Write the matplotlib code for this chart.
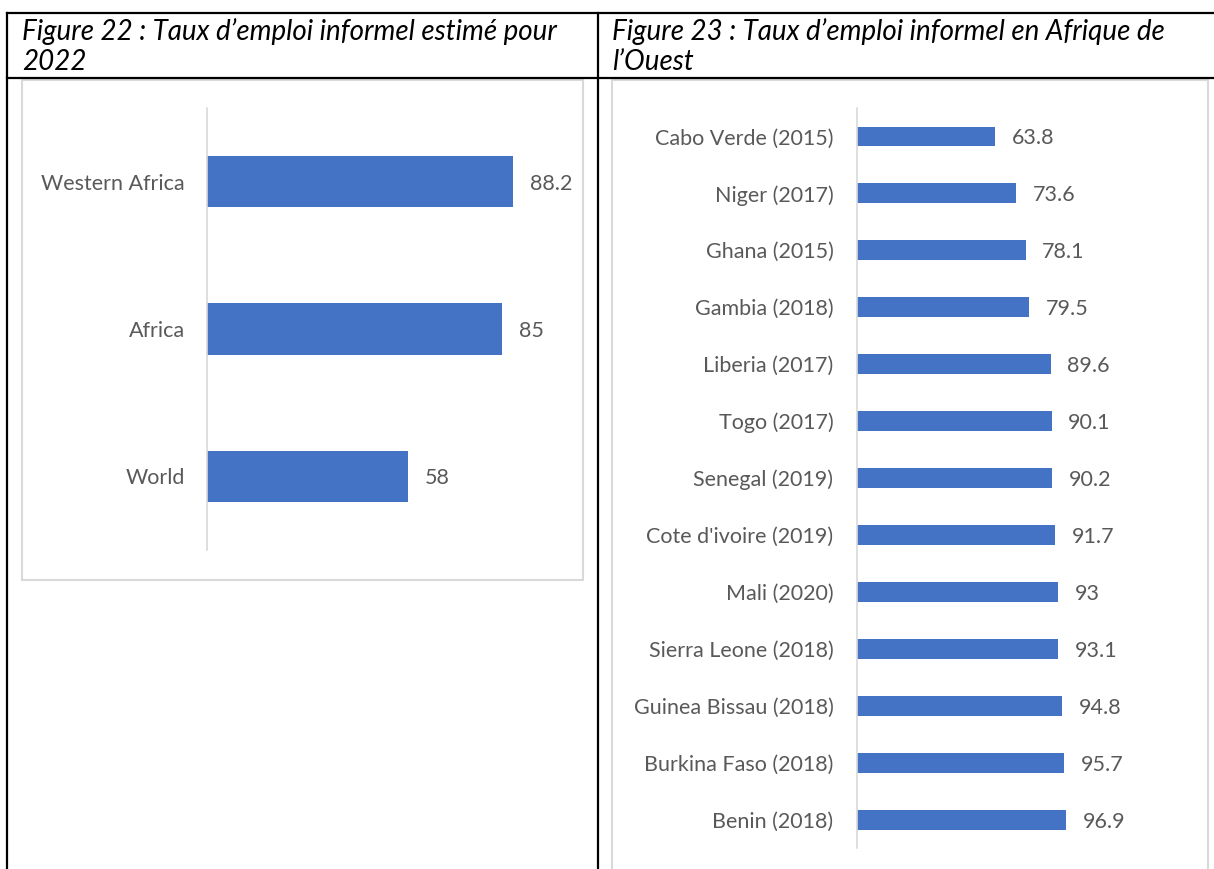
import matplotlib.pyplot as plt
from matplotlib.lines import Line2D
from matplotlib.patches import Rectangle

W, H = 1214, 869
plt.rcParams['font.family'] = ['Lato', 'DejaVu Sans']

# data
regions = ["Western Africa", "Africa", "World"]
region_rates = [88.2, 85, 58]

countries = ["Cabo Verde (2015)", "Niger (2017)", "Ghana (2015)", "Gambia (2018)",
             "Liberia (2017)", "Togo (2017)", "Senegal (2019)", "Cote d'ivoire (2019)",
             "Mali (2020)", "Sierra Leone (2018)", "Guinea Bissau (2018)",
             "Burkina Faso (2018)", "Benin (2018)"]
country_rates = [63.8, 73.6, 78.1, 79.5, 89.6, 90.1, 90.2, 91.7, 93, 93.1, 94.8, 95.7, 96.9]

title_left = "Figure 22 : Taux d’emploi informel estimé pour\n2022"
title_right = "Figure 23 : Taux d’emploi informel en Afrique de\nl’Ouest"

bar_color = "#4472C4"
grid_color = "#D9D9D9"
text_color = "#595959"

fig = plt.figure(figsize=(W / 100, H / 100), dpi=100)


def fx(x):
    return x / W


def fy(y):
    return 1 - y / H


def px_axes(x0, y0, x1, y1):
    return fig.add_axes([fx(x0), fy(y1), (x1 - x0) / W, (y1 - y0) / H])


def bar_chart(ax, labels, values, pad):
    n = len(labels)
    pos = list(range(n))
    ax.barh(pos, values, height=0.35, color=bar_color)
    ax.set_xlim(0, 100)
    ax.set_ylim(n - 0.5, -0.5)
    ax.set_yticks(pos)
    ax.set_yticklabels(labels, fontsize=15.5, color=text_color)
    ax.tick_params(axis='y', length=0, pad=pad)
    ax.set_xticks([])
    for s in ['top', 'right', 'bottom']:
        ax.spines[s].set_visible(False)
    ax.spines['left'].set_color(grid_color)
    ax.spines['left'].set_linewidth(1.2)
    for p, v in zip(pos, values):
        ax.annotate(f"{v:g}", (v, p), xytext=(12, 0), textcoords='offset points',
                    va='center_baseline', ha='left', fontsize=15.5, color=text_color)


# chart frames
fig.add_artist(Rectangle((fx(22), fy(580)), (583 - 22) / W, (580 - 80) / H,
                         transform=fig.transFigure, fill=False,
                         edgecolor=grid_color, lw=1.5))
fig.add_artist(Rectangle((fx(612), fy(880)), (1208 - 612) / W, (880 - 80) / H,
                         transform=fig.transFigure, fill=False,
                         edgecolor=grid_color, lw=1.5))

ax1 = px_axes(207, 108, 554, 550)
bar_chart(ax1, regions, region_rates, 16)

ax2 = px_axes(857, 108, 1073, 848)
bar_chart(ax2, countries, country_rates, 17)

# table borders
lw = 1.6
fig.add_artist(Line2D([fx(7), 1], [fy(13), fy(13)], color='black', lw=lw))
fig.add_artist(Line2D([fx(7), 1], [fy(78), fy(78)], color='black', lw=lw))
fig.add_artist(Line2D([fx(7), fx(7)], [fy(13), 0], color='black', lw=lw))
fig.add_artist(Line2D([fx(598), fx(598)], [fy(13), 0], color='black', lw=lw))

# titles
fig.text(fx(22), fy(18), title_left, fontsize=20, style='italic',
         va='top', ha='left', linespacing=1.2)
fig.text(fx(612), fy(18), title_right, fontsize=20, style='italic',
         va='top', ha='left', linespacing=1.2)

fig.savefig("out.png", dpi=100)
